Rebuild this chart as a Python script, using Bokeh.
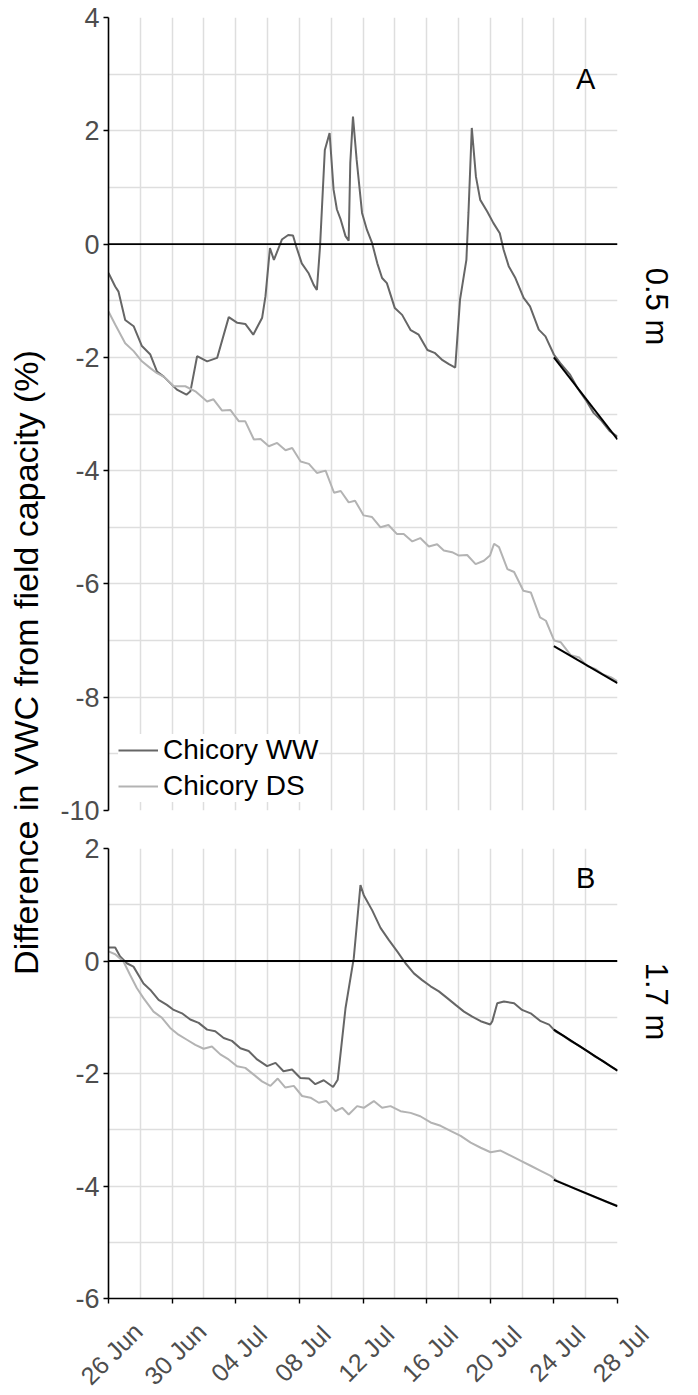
import math
import pandas as pd
from bokeh.plotting import figure
from bokeh.layouts import row, column
from bokeh.models import (FixedTicker, DatetimeTickFormatter, Span, Legend,
                          LegendItem, Range1d, Label)
from bokeh.core.properties import value
from bokeh.embed import file_html
from bokeh.resources import INLINE

# ---------------- data (days since 26 Jun) ----------------
START = pd.Timestamp("2019-06-26")
END_DAY = 32
tick_days = [0, 4, 8, 12, 16, 20, 24, 28, 32]
tick_labels = ["26 Jun", "30 Jun", "04 Jul", "08 Jul", "12 Jul", "16 Jul", "20 Jul",
               "24 Jul", "28 Jul"]
minor_days = [2, 6, 10, 14, 18, 22, 26, 30]

a_ww_day = [0, 0.42, 0.63, 1.05, 1.58, 2.1, 2.63, 3.05, 3.47, 4.3, 4.9, 5.15, 5.57, 6.2, 6.83,
            7.56, 8.1, 8.6, 9.1, 9.66, 9.87, 10.15, 10.4, 10.9, 11.3, 11.6, 11.8, 12.15, 12.57,
            12.9, 13.1, 13.3, 13.6, 13.9, 14.15, 14.36, 14.6, 14.9, 15.1, 15.2, 15.37, 15.6,
            15.94, 16.25, 16.57, 16.9, 17.2, 17.5, 18.0, 18.46, 19.0, 19.5, 20.05, 20.5, 21.0,
            21.4, 21.8, 22.1, 22.5, 22.63, 22.84, 23.1, 23.37, 23.8, 24.2, 24.6, 24.84, 25.16,
            25.58, 26.1, 26.5, 27.05, 27.47, 28.0, 28.4, 29.0, 29.5, 30.0, 30.5, 31.0, 31.5, 32.0]
a_ww_val = [-0.51, -0.75, -0.84, -1.34, -1.45, -1.8, -1.95, -2.25, -2.34, -2.57, -2.66, -2.6,
            -1.98, -2.07, -2.01, -1.29, -1.39, -1.41, -1.6, -1.3, -0.92, -0.07, -0.28, 0.08,
            0.16, 0.15, -0.04, -0.34, -0.51, -0.72, -0.81, -0.04, 1.66, 1.96, 0.96, 0.61, 0.43,
            0.14, 0.06, 1.43, 2.25, 1.49, 0.55, 0.25, 0.02, -0.34, -0.6, -0.69, -1.13, -1.25,
            -1.52, -1.6, -1.87, -1.92, -2.05, -2.12, -2.18, -0.98, -0.28, 0.55, 2.05, 1.19, 0.78,
            0.58, 0.37, 0.19, -0.1, -0.39, -0.6, -0.95, -1.1, -1.51, -1.63, -1.95, -2.1, -2.3,
            -2.55, -2.75, -2.98, -3.12, -3.3, -3.4]

a_ds_day = [0, 0.42, 1.05, 1.58, 2.1, 2.63, 3.05, 3.47, 4.1, 4.83, 5.46, 6.2, 6.6, 7.14, 7.67,
            8.2, 8.6, 9.14, 9.56, 10.08, 10.6, 11.13, 11.55, 12.08, 12.6, 13.1, 13.65, 14.18,
            14.6, 15.1, 15.5, 16.04, 16.57, 17.1, 17.6, 18.14, 18.56, 19.1, 19.6, 20.14, 20.66,
            21.08, 21.6, 22.03, 22.55, 23.08, 23.6, 23.98, 24.24, 24.55, 25.08, 25.5, 26.08,
            26.55, 27.13, 27.5, 28.02, 28.44, 29.07, 29.6, 30.1, 30.6, 31.1, 31.6, 32.0]
a_ds_val = [-1.19, -1.42, -1.75, -1.89, -2.07, -2.19, -2.28, -2.34, -2.51, -2.51, -2.6, -2.78,
            -2.74, -2.94, -2.93, -3.13, -3.13, -3.45, -3.44, -3.57, -3.51, -3.64, -3.6, -3.84,
            -3.88, -4.04, -4.0, -4.39, -4.36, -4.56, -4.53, -4.79, -4.82, -5.0, -4.96, -5.12,
            -5.12, -5.25, -5.19, -5.34, -5.3, -5.41, -5.44, -5.5, -5.49, -5.65, -5.59, -5.5,
            -5.29, -5.35, -5.74, -5.79, -6.12, -6.15, -6.59, -6.65, -7.0, -7.03, -7.26, -7.3,
            -7.45, -7.5, -7.6, -7.65, -7.72]

b_ww_day = [0, 0.42, 0.73, 1.15, 1.57, 2.2, 2.62, 3.15, 3.67, 4.1, 4.62, 5.14, 5.67, 6.2, 6.71,
            7.24, 7.76, 8.29, 8.81, 9.34, 9.97, 10.5, 11.0, 11.54, 12.06, 12.6, 13.0, 13.53,
            14.12, 14.41, 14.9, 15.42, 15.84, 16.05, 16.58, 17.1, 17.63, 18.15, 18.67, 19.2,
            19.72, 20.25, 20.77, 21.3, 21.82, 22.35, 22.87, 23.4, 24.0, 24.13, 24.44, 24.86,
            25.5, 26.0, 26.54, 27.17, 27.7, 28.1, 28.6, 29.1, 29.6, 30.1, 30.6, 31.1, 31.6, 32.0]
b_ww_val = [0.24, 0.24, 0.08, -0.04, -0.1, -0.4, -0.51, -0.69, -0.78, -0.87, -0.93, -1.04, -1.1,
            -1.22, -1.25, -1.37, -1.42, -1.55, -1.6, -1.75, -1.87, -1.81, -1.96, -1.93, -2.08,
            -2.09, -2.19, -2.12, -2.24, -2.11, -0.84, 0.05, 1.35, 1.17, 0.9, 0.59, 0.37, 0.17,
            -0.04, -0.22, -0.34, -0.45, -0.54, -0.66, -0.78, -0.9, -0.99, -1.07, -1.13, -1.07,
            -0.75, -0.72, -0.75, -0.87, -0.93, -1.07, -1.13, -1.25, -1.33, -1.43, -1.51, -1.6,
            -1.7, -1.78, -1.88, -1.95]

b_ds_day = [0, 0.42, 0.94, 1.36, 1.78, 2.2, 2.83, 3.36, 3.88, 4.4, 4.93, 5.46, 5.98, 6.5, 7.03,
            7.55, 8.08, 8.6, 9.13, 9.65, 10.18, 10.64, 11.12, 11.65, 12.17, 12.7, 13.22, 13.7,
            14.27, 14.69, 15.1, 15.63, 16.05, 16.68, 17.2, 17.73, 18.36, 18.99, 19.6, 20.25,
            20.88, 21.5, 22.14, 22.77, 23.4, 24.02, 24.65, 25.28, 25.9, 26.54, 27.17, 27.8,
            28.22, 28.8, 29.4, 30.0, 30.6, 31.2, 32.0]
b_ds_val = [0.17, 0.12, -0.01, -0.25, -0.48, -0.66, -0.9, -1.01, -1.19, -1.31, -1.4, -1.49,
            -1.56, -1.52, -1.66, -1.75, -1.87, -1.9, -2.02, -2.14, -2.22, -2.09, -2.25, -2.22,
            -2.4, -2.43, -2.52, -2.49, -2.67, -2.61, -2.73, -2.58, -2.61, -2.49, -2.61, -2.58,
            -2.67, -2.7, -2.76, -2.87, -2.93, -3.02, -3.11, -3.23, -3.32, -3.4, -3.37, -3.46,
            -3.55, -3.64, -3.73, -3.82, -3.91, -3.98, -4.06, -4.13, -4.2, -4.27, -4.35]

fit_day = [28, 32]
fit_a_ww = [-2.0, -3.45]
fit_a_ds = [-7.1, -7.75]
fit_b_ww = [-1.22, -1.95]
fit_b_ds = [-3.89, -4.36]

a_yticks = [-10, -8, -6, -4, -2, 0, 2, 4]
a_yminor = [-9, -7, -5, -3, -1, 1, 3]
b_yticks = [-6, -4, -2, 0, 2]
b_yminor = [-5, -3, -1, 1]

series_names = ["Chicory WW", "Chicory DS"]
y_label = "Difference in VWC from field capacity (%)"
depth_labels = ["0.5 m", "1.7 m"]
panel_labels = ["A", "B"]

# ---------------- layout / styling ----------------
FONT = "Liberation Sans"
WW_COLOR = "#666666"
DS_COLOR = "#b3b3b3"
GRID = "#dedede"
TICK_TXT = "#4d4d4d"
W, H = 698, 1395
LEFT_W = 50            # strip holding the shared y title
FRAME_L, FRAME_W = 108, 509
B_BOTTOM = 18          # border under panel B (ticks + room for the "-6" label)
STRIP_H = 79           # strip under everything holding the rotated date labels
TOP_H = H - STRIP_H


def to_dt(days):
    return [START + pd.Timedelta(days=d) for d in days]


def to_ms(days):
    return [(START + pd.Timedelta(days=d)).value / 1e6 for d in days]


def make_panel(ylo, yhi, yticks, yminor, frame_h, top, bottom, show_x):
    p = figure(x_axis_type="datetime", frame_width=FRAME_W, frame_height=frame_h,
               x_range=Range1d(*to_dt([0, END_DAY])), y_range=Range1d(ylo, yhi),
               toolbar_location=None, output_backend="svg",
               min_border_left=FRAME_L - LEFT_W, min_border_right=10,
               min_border_top=top, min_border_bottom=bottom)
    p.outline_line_color = None
    p.background_fill_color = "white"
    p.border_fill_color = "white"
    p.xaxis.ticker = FixedTicker(ticks=to_ms(tick_days), minor_ticks=to_ms(minor_days))
    p.xaxis.formatter = DatetimeTickFormatter(days="%d %b", months="%d %b", hours="%d %b")
    p.yaxis.ticker = FixedTicker(ticks=yticks, minor_ticks=yminor)
    p.yaxis.major_label_overrides = {t: str(t) for t in yticks}
    for ax in p.axis:
        ax.axis_line_color = "black"
        ax.axis_line_width = 1.6
        ax.major_tick_line_color = "black"
        ax.major_tick_line_width = 1.4
        ax.major_tick_out = 5
        ax.major_tick_in = 0
        ax.minor_tick_line_color = None
        ax.major_label_text_font = FONT
        ax.major_label_text_font_size = "27px"
        ax.major_label_text_color = TICK_TXT
        ax.major_label_standoff = 4
    # the date labels are drawn (rotated, centred on the ticks) in the strip below
    p.xaxis.major_label_text_color = None
    p.xaxis.major_label_standoff = 0
    if not show_x:
        p.xaxis.visible = False
    for g in p.grid:
        g.grid_line_color = GRID
        g.grid_line_width = 1.5
        g.minor_grid_line_color = GRID
        g.minor_grid_line_width = 1.5
    p.add_layout(Span(location=0, dimension="width", line_color="black", line_width=1.8))
    return p


pa = make_panel(-10, 4, a_yticks, a_yminor, 793, 17, 19, False)
pb = make_panel(-6, 2, b_yticks, b_yminor, 450, 19, B_BOTTOM, True)

r_ww = pa.line(to_dt(a_ww_day), a_ww_val, line_color=WW_COLOR, line_width=2)
r_ds = pa.line(to_dt(a_ds_day), a_ds_val, line_color=DS_COLOR, line_width=2)
pa.line(to_dt(fit_day), fit_a_ww, line_color="black", line_width=2)
pa.line(to_dt(fit_day), fit_a_ds, line_color="black", line_width=2)

pb.line(to_dt(b_ww_day), b_ww_val, line_color=WW_COLOR, line_width=2)
pb.line(to_dt(b_ds_day), b_ds_val, line_color=DS_COLOR, line_width=2)
pb.line(to_dt(fit_day), fit_b_ww, line_color="black", line_width=2)
pb.line(to_dt(fit_day), fit_b_ds, line_color="black", line_width=2)

legend = Legend(items=[LegendItem(label=series_names[0], renderers=[r_ww]),
                       LegendItem(label=series_names[1], renderers=[r_ds])],
                location=(10, 8))
legend.label_text_font = FONT
legend.label_text_font_size = "28px"
legend.label_text_color = "black"
legend.glyph_width = 40
legend.glyph_height = 30
legend.label_height = 30
legend.label_standoff = 5
legend.padding = 3
legend.spacing = 4
legend.margin = 0
legend.border_line_color = None
legend.background_fill_color = "white"
legend.background_fill_alpha = 1.0
pa.add_layout(legend, "center")

for p, txt, yv in [(pa, panel_labels[0], 2.92), (pb, panel_labels[1], 1.48)]:
    p.add_layout(Label(x=to_ms([30.0])[0], y=yv, text=txt, text_align="center",
                       text_baseline="middle", text_font=FONT, text_font_size="29px",
                       text_color="black"))

# left strip: shared y title
lab = figure(width=LEFT_W, height=TOP_H, x_range=(0, LEFT_W), y_range=(0, TOP_H),
             toolbar_location=None, output_backend="svg", min_border=0,
             x_axis_location=None, y_axis_location=None)
lab.grid.visible = False
lab.outline_line_color = None
lab.text(x=[25], y=[TOP_H - 662], text=[y_label], angle=math.pi / 2, text_align="center",
         text_baseline="middle", text_font=value(FONT), text_font_size="34px",
         text_color="black")

# right strip: depth labels
RIGHT_W = W - FRAME_L - FRAME_W - 10
rt = figure(width=RIGHT_W, height=TOP_H, x_range=(0, RIGHT_W), y_range=(0, TOP_H),
            toolbar_location=None, output_backend="svg", min_border=0,
            x_axis_location=None, y_axis_location=None)
rt.grid.visible = False
rt.outline_line_color = None
rt.text(x=[29, 29], y=[TOP_H - 306, TOP_H - 1001], text=depth_labels, angle=-math.pi / 2,
        text_align="center", text_baseline="middle", text_font=value(FONT),
        text_font_size="31px", text_color="black")

# bottom strip: date labels on the same time scale as the panels
px_per_day = FRAME_W / END_DAY
strip_x = Range1d(*to_dt([-FRAME_L / px_per_day, END_DAY + (W - FRAME_L - FRAME_W) / px_per_day]))
xs = figure(x_axis_type="datetime", width=W, height=STRIP_H, x_range=strip_x,
            y_range=(0, STRIP_H), toolbar_location=None, output_backend="svg", min_border=0,
            x_axis_location=None, y_axis_location=None)
xs.grid.visible = False
xs.outline_line_color = None
xs.text(x=to_dt(tick_days), y=[STRIP_H - 37] * len(tick_days), text=tick_labels,
        angle=math.pi / 4, x_offset=3, text_align="center", text_baseline="middle",
        text_font=value(FONT), text_font_size="25px", text_color=TICK_TXT)

layout = column(row(lab, column(pa, pb, spacing=0), rt, spacing=0), xs, spacing=0)

open("out.html", "w").write(file_html(layout, INLINE))
